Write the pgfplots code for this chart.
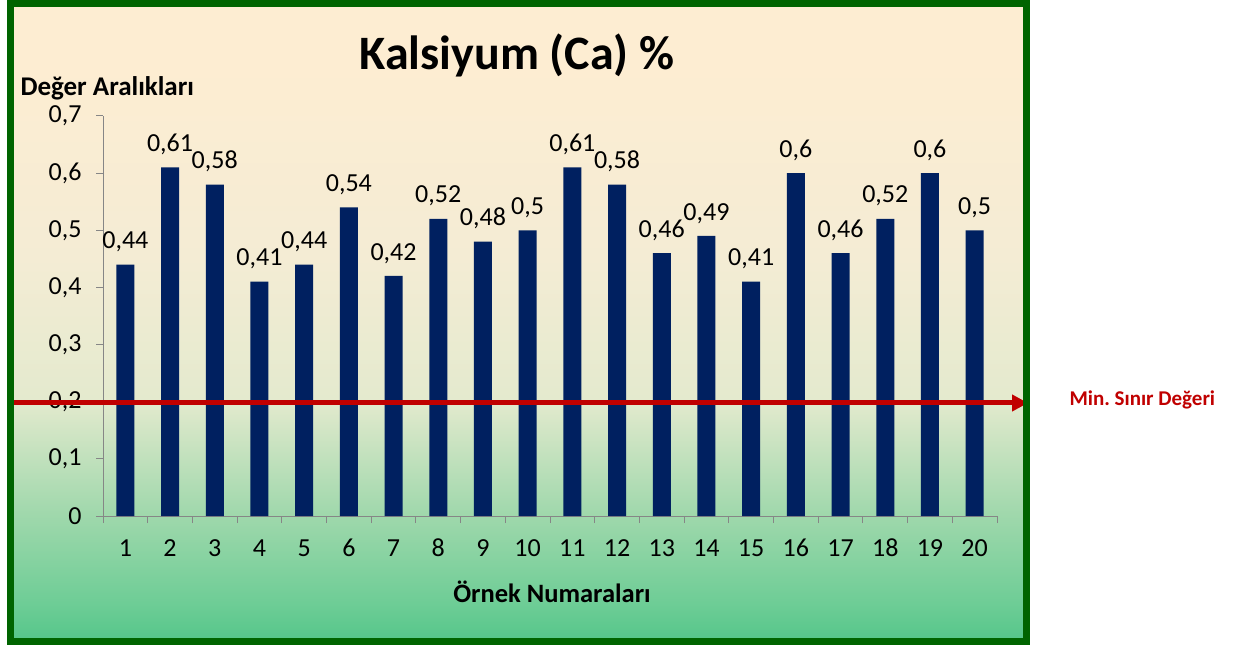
\documentclass[border=0pt]{standalone}
\usepackage{pgfplots}
\pgfplotsset{compat=1.18}
\usepackage{fontspec}
\setmainfont{Carlito}
\frenchspacing
\usetikzlibrary{arrows.meta}
\definecolor{barblue}{RGB}{0,32,96}
\definecolor{framegreen}{RGB}{0,100,0}
\definecolor{arrowred}{RGB}{192,0,0}
\definecolor{axgray}{RGB}{134,134,134}
\definecolor{c1}{RGB}{253,237,210}
\definecolor{c2}{RGB}{244,236,212}
\definecolor{c3}{RGB}{228,234,206}
\definecolor{c4}{RGB}{160,216,172}
\definecolor{c5}{RGB}{110,205,150}
\definecolor{c6}{RGB}{85,198,138}
\pgfdeclareverticalshading{bgshade}{100bp}{color(0bp)=(c6); color(25bp)=(c6); color(28bp)=(c5); color(35bp)=(c4); color(44bp)=(c3); color(55bp)=(c2); color(70bp)=(c1); color(75bp)=(c1); color(100bp)=(c1)}
\pgfplotstableread{
x y
1 0.44
2 0.61
3 0.58
4 0.41
5 0.44
6 0.54
7 0.42
8 0.52
9 0.48
10 0.50
11 0.61
12 0.58
13 0.46
14 0.49
15 0.41
16 0.60
17 0.46
18 0.52
19 0.60
20 0.50
}\data
\begin{document}
\begin{tikzpicture}[x=1pt,y=1pt]
\useasboundingbox (0,0) rectangle (1241,648);
\shade[shading=bgshade] (10,7) rectangle (1026.5,644.5);
\begin{axis}[
  at={(103pt,132pt)}, anchor=south west,
  scale only axis, width=894pt, height=400pt,
  xmin=0.5, xmax=20.5, ymin=0, ymax=0.7,
  axis lines=left, axis line style={axgray, line width=1pt, -},
  xtick={1,...,20}, major x tick style={draw=none},
  minor xtick={0.5,1.5,...,20.5},
  minor x tick style={axgray, line width=1pt},
  ytick={0,0.1,...,0.7},
  y tick style={axgray, line width=1pt},
  tick align=outside, major tick length=7pt, minor tick length=7pt,
  /pgf/number format/.cd, use comma, assume math mode=true, fixed, precision=2,
  /pgfplots/.cd,
  ticklabel style={font=\fontsize{26}{30}\selectfont, text=black},
  xticklabel style={yshift=-13pt, text height=17pt, text depth=0pt},
  yticklabel style={xshift=-11pt},
  yticklabel={\pgfmathprintnumber[fixed,precision=1,use comma,assume math mode=true]{\tick}},
  nodes near coords,
  nodes near coords style={font=\fontsize{26}{30}\selectfont, text=black, yshift=9pt, /pgf/number format/.cd, use comma, assume math mode=true, fixed, precision=2},
  clip=false,
]
\addplot[ybar, bar width=18pt, fill=barblue, draw=none] table[x=x,y=y]{\data};
\end{axis}
\draw[arrowred, line width=5pt, -{Triangle[length=16pt,width=16pt]}] (10,245) -- (1028,245);
\node[anchor=west, text=arrowred, font=\fontsize{21}{25}\selectfont\bfseries] at (1066,248) {Min. Sınır Değeri};
\draw[framegreen, line width=7pt] (10,7) rectangle (1026.5,644.5);
\node[font=\fontsize{48}{58}\selectfont\bfseries] at (517,593) {Kalsiyum (Ca) \%};
\node[anchor=west, font=\fontsize{27}{31}\selectfont\bfseries] at (17,560) {Değer Aralıkları};
\node[font=\fontsize{26.5}{31}\selectfont\bfseries] at (552,56) {Örnek Numaraları};
\end{tikzpicture}
\end{document}
